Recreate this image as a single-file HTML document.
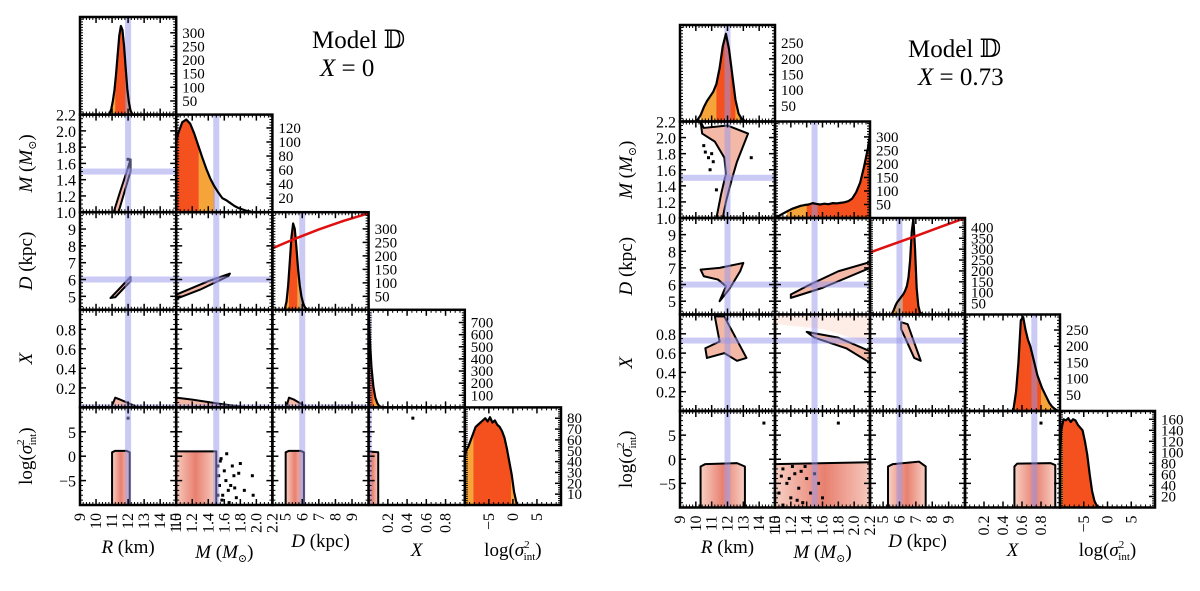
<!DOCTYPE html>
<html><head><meta charset="utf-8">
<style>
html,body{margin:0;padding:0;background:#fff;}
svg, svg text{font-family:"Liberation Serif","DejaVu Serif",serif;}
</style></head>
<body>
<svg id="fig" width="1200" height="586" viewBox="0 0 1200 586" xmlns="http://www.w3.org/2000/svg" font-family="Liberation Serif, DejaVu Serif, serif">
<defs>
<linearGradient id="boxgrad" x1="0" x2="1" y1="0" y2="0">
<stop offset="0" stop-color="#f7d0c4"/><stop offset="0.5" stop-color="#e88070"/><stop offset="1" stop-color="#f7d0c4"/>
</linearGradient>
</defs>
</svg>
<script>
// ---------- DATA (left: X = 0) ----------
const leftRBins=[10.85,10.95,11.05,11.15,11.25,11.35,11.45,11.55,11.65,11.75,11.85,11.95,12.05,12.15,12.25];
const leftRCounts=[5,20,50,90,150,220,290,325,310,250,170,95,45,15,3];
const leftMBins=[1.0,1.025,1.075,1.125,1.175,1.225,1.275,1.325,1.375,1.425,1.475,1.525,1.575,1.625,1.675,1.725,1.775,1.825,1.875,1.925];
const leftMCounts=[100,112,128,132,126,112,95,78,62,48,37,28,20,17,13,9,6,4,2,1];
const leftDBins=[4.95,5.05,5.15,5.25,5.35,5.45,5.55,5.65,5.75,5.85,5.95,6.05,6.15,6.25,6.35];
const leftDCounts=[5,30,90,180,270,320,300,230,150,90,50,25,10,4,1];
const leftXBins=[0.0,0.01,0.03,0.05,0.07,0.09,0.11,0.13,0.15];
const leftXCounts=[800,600,330,170,80,35,12,4,1];
const leftSBins=[-10,-9.75,-9.25,-8.75,-8.25,-7.75,-7.25,-6.75,-6.25,-5.75,-5.25,-4.75,-4.25,-3.75,-3.25,-2.75,-2.25,-1.75,-1.25,-0.75,-0.25,0.25,0.75];
const leftSCounts=[45,50,54,60,66,72,74,76,78,80,77,81,76,78,74,72,68,62,52,40,28,12,2];
// ---------- DATA (right: X = 0.73) ----------
const rightRBins=[10.1,10.3,10.5,10.7,10.9,11.1,11.3,11.5,11.7,11.9,12.1,12.3,12.5,12.7,12.9,13.1];
const rightRCounts=[5,20,45,65,80,95,120,170,240,280,230,150,70,25,8,2];
const rightMBins=[1.0,1.075,1.125,1.175,1.225,1.275,1.325,1.375,1.425,1.475,1.525,1.575,1.625,1.675,1.725,1.775,1.825,1.875,1.925,1.975,2.025,2.075,2.125,2.175,2.2];
const rightMCounts=[0,12,20,28,35,40,45,48,50,55,52,50,53,51,55,54,56,58,62,72,95,130,190,260,310];
const rightDBins=[5.55,5.65,5.75,5.85,5.95,6.05,6.15,6.25,6.35,6.45,6.55,6.65,6.75,6.85,6.95,7.05,7.15,7.25,7.35,7.45];
const rightDCounts=[5,20,40,55,65,75,85,95,110,130,170,250,380,440,300,120,40,10,3,1];
const rightXBins=[0.5125,0.5375,0.5625,0.5875,0.6125,0.6375,0.6625,0.6875,0.7125,0.7375,0.7625,0.7875,0.8125,0.8375,0.8625,0.8875,0.9125,0.9375,0.9625,0.9875];
const rightXCounts=[10,60,150,280,290,250,220,200,170,140,110,90,70,55,40,25,15,8,3,1];
const rightSBins=[-10,-9.75,-9.25,-8.75,-8.25,-7.75,-7.25,-6.75,-6.25,-5.75,-5.25,-4.75,-4.25,-3.75,-3.25,-2.75,-2.25,-1.75,-1.25];
const rightSCounts=[90,140,160,158,162,155,160,158,150,145,140,120,95,60,30,12,3,1,0];
// tick label arrays
const leftHistTicks=[[50,100,150,200,250,300],[20,40,60,80,100,120],[50,100,150,200,250,300],[100,200,300,400,500,600,700],[10,20,30,40,50,60,70,80]];
const rightHistTicks=[[50,100,150,200,250],[50,100,150,200,250,300],[50,100,150,200,250,300,350,400],[50,100,150,200,250],[20,40,60,80,100,120,140,160]];
const leftHistMax=[358,139,362,805,90];
const rightHistMax=[308,357,443,298,175];
// red line in D histogram [D, count]
const leftRedLine=[[4.2,228],[5.5,262],[7,298],[8.5,330],[10,358]];
const rightRedLine=[[4.2,285],[5.5,320],[7,360],[8.5,402],[10,443]];

const NS='http://www.w3.org/2000/svg';
const svg=document.getElementById('fig');
const FF='Liberation Serif, DejaVu Serif, serif';
function mk(tag,attrs,parent){const e=document.createElementNS(NS,tag);for(const k in attrs)e.setAttribute(k,attrs[k]);if(tag==='text')e.setAttribute('font-family',FF);(parent||svg).appendChild(e);return e;}

const VARS=['R','M','D','X','S'];
const RANGES={R:[9,15],M:[1.0,2.2],D:[4.2,10],X:[0,1],S:[-10,10]};
const MAJ={R:[9,10,11,12,13,14,15],M:[1.0,1.2,1.4,1.6,1.8,2.0,2.2],D:[5,6,7,8,9],X:[0.2,0.4,0.6,0.8],S:[-5,0,5]};
const MINSTEP={R:0.2,M:0.05,D:0.2,X:0.05,S:1};
const XLAB={R:['9','10','11','12','13','14','15'],M:['1.0','1.2','1.4','1.6','1.8','2.0','2.2'],D:['5','6','7','8','9'],X:['0.2','0.4','0.6','0.8'],S:['\u22125','0','5']};
const YLAB={M:['1.0','1.2','1.4','1.6','1.8','2.0','2.2'],D:['5','6','7','8','9'],X:['0.2','0.4','0.6','0.8'],S:['\u22125','0','5']};
const BAND='rgba(150,150,235,0.5)';

function corner(cfg){
  const g=mk('g',{});
  
  
  const W=cfg.w,H=cfg.h;
  function sx(v,col){const r=RANGES[VARS[col]];return cfg.x0+col*W+(v-r[0])/(r[1]-r[0])*W;}
  function sy(v,row){const r=RANGES[VARS[row]];return cfg.y0+(row+1)*H-(v-r[0])/(r[1]-r[0])*H;}
  let clipId=0;
  for(let row=0;row<5;row++){
    for(let col=0;col<=row;col++){
      const px=cfg.x0+col*W,py=cfg.y0+row*H;
      const cid=cfg.name+'-clip-'+(clipId++);
      const cp=mk('clipPath',{id:cid},g);mk('rect',{x:px,y:py,width:W,height:H},cp);
      const pg=mk('g',{'clip-path':'url(#'+cid+')'},g);
      
      
      const vx=VARS[col],vy=VARS[row];
      if(row===col){
        const h=cfg.hists[col];const ymax=h.ymax;
        const hy=v=>py+H-v/ymax*H;
        const n=h.bins.length;
        let d='M'+sx(h.bins[0],col)+','+(py+H+2);
        h.bins.forEach((b,i)=>{d+=' L'+sx(b,col)+','+hy(h.counts[i]);});
        d+=' L'+sx(h.bins[n-1],col)+','+(py+H+2)+' Z';
        const hc=cfg.name+'-hc-'+col;
        const cp2=mk('clipPath',{id:hc},g);mk('path',{d:d},cp2);
        const fg=mk('g',{'clip-path':'url(#'+hc+')'},pg);
        const l1=mk('rect',{x:sx(h.light[0],col),y:py,width:sx(h.light[1],col)-sx(h.light[0],col),height:H,fill:'#f5a43a'},fg);
        
        const l2=mk('rect',{x:sx(h.dark[0],col),y:py,width:sx(h.dark[1],col)-sx(h.dark[0],col),height:H,fill:'#f4511e'},fg);
        
        if(cfg.truth[vx]!=null){const t=mk('rect',{x:sx(cfg.truth[vx],col)-3,y:py,width:6,height:H,fill:BAND},pg);
          }
        let d2='M'+sx(h.bins[0],col)+','+(py+H);
        h.bins.forEach((b,i)=>{d2+=' L'+sx(b,col)+','+hy(h.counts[i]);});
        d2+=' L'+sx(h.bins[n-1],col)+','+(py+H);
        const hp=mk('path',{d:d2,fill:'none',stroke:'#000','stroke-width':2.2,'stroke-linejoin':'round'},pg);
        
        if(col===2){
          const pts=cfg.red.map(p=>sx(p[0],col)+','+hy(p[1])).join(' ');
          const rl=mk('polyline',{points:pts,fill:'none',stroke:'#e01010','stroke-width':2.5},pg);
          
        }
        h.ticks.forEach(t=>{
          const yy=hy(t);
          mk('line',{x1:px+W-6,x2:px+W,y1:yy,y2:yy,stroke:'#000','stroke-width':1.5},g);
          const tx=mk('text',{x:px+W+6,y:yy+5,'font-size':15,fill:'#000'},g);tx.textContent=t;
          
        });
        const step=(h.ticks[1]-h.ticks[0])/5;
        for(let v=0;v<ymax;v+=step){const yy=hy(v);mk('line',{x1:px+W-3,x2:px+W,y1:yy,y2:yy,stroke:'#000','stroke-width':1},g);mk('line',{x1:px,x2:px+3,y1:yy,y2:yy,stroke:'#000','stroke-width':1},g);}
      } else {
        const key=vx+vy;
        if(cfg.bg && cfg.bg[key]){const b=cfg.bg[key];mk('polygon',{points:b.map(p=>sx(p[0],col)+','+sy(p[1],row)).join(' '),fill:'#fde6dc',opacity:0.7},pg);}
        const poly=cfg.regions[key];
        if(poly){
          const isBox=(vy==='S');
          const pe=mk('polygon',{points:poly.map(p=>sx(p[0],col)+','+sy(p[1],row)).join(' '),fill:isBox?'url(#boxgrad)':'#f4b8a6',stroke:'#000','stroke-width':2,'stroke-linejoin':'round'},pg);
          
        }
        const sc=cfg.scatter[key];
        if(sc){sc.forEach(p=>{mk('rect',{x:sx(p[0],col)-1.5,y:sy(p[1],row)-1.5,width:3,height:3,fill:'#000'},pg);});}
        if(cfg.truth[vx]!=null){const t=mk('rect',{x:sx(cfg.truth[vx],col)-3,y:py,width:6,height:H,fill:BAND},pg);}
        if(cfg.truth[vy]!=null){const t=mk('rect',{x:px,y:sy(cfg.truth[vy],row)-3,width:W,height:6,fill:BAND},pg);}
      }
      const rx=RANGES[vx];
      for(let v=Math.ceil(rx[0]/MINSTEP[vx])*MINSTEP[vx];v<=rx[1]+1e-9;v+=MINSTEP[vx]){
        const xx=sx(v,col);
        mk('line',{x1:xx,x2:xx,y1:py,y2:py+3,stroke:'#000','stroke-width':1},g);
        mk('line',{x1:xx,x2:xx,y1:py+H-3,y2:py+H,stroke:'#000','stroke-width':1},g);
      }
      MAJ[vx].forEach(v=>{const xx=sx(v,col);
        mk('line',{x1:xx,x2:xx,y1:py,y2:py+6,stroke:'#000','stroke-width':1.5},g);
        mk('line',{x1:xx,x2:xx,y1:py+H-6,y2:py+H,stroke:'#000','stroke-width':1.5},g);});
      if(row!==col){
        const ry=RANGES[vy];
        for(let v=Math.ceil(ry[0]/MINSTEP[vy])*MINSTEP[vy];v<=ry[1]+1e-9;v+=MINSTEP[vy]){
          const yy=sy(v,row);
          mk('line',{x1:px,x2:px+3,y1:yy,y2:yy,stroke:'#000','stroke-width':1},g);
          mk('line',{x1:px+W-3,x2:px+W,y1:yy,y2:yy,stroke:'#000','stroke-width':1},g);
        }
        MAJ[vy].forEach(v=>{const yy=sy(v,row);
          mk('line',{x1:px,x2:px+6,y1:yy,y2:yy,stroke:'#000','stroke-width':1.5},g);
          mk('line',{x1:px+W-6,x2:px+W,y1:yy,y2:yy,stroke:'#000','stroke-width':1.5},g);});
      }
      const fr=mk('rect',{x:px,y:py,width:W,height:H,fill:'none',stroke:'#000','stroke-width':2.5},g);
      
      if(col===0&&row>0){
        MAJ[vy].forEach((v,i)=>{const t=mk('text',{x:px-4,y:sy(v,row)+6,'font-size':16,'text-anchor':'end',fill:'#000'},g);t.textContent=YLAB[vy][i];
          });
      }
      if(row===4){
        MAJ[vx].forEach((v,i)=>{const xx=sx(v,col);const t=mk('text',{x:0,y:0,'font-size':16,'text-anchor':'end',fill:'#000',transform:'translate('+(xx+5)+','+(py+H+8)+') rotate(-90)'},g);t.textContent=XLAB[vx][i];
          });
      }
    }
  }
  const yT=[null,'M','D','X','S'];
  const ytitles=['', '<tspan font-style="italic">M</tspan> (<tspan font-style="italic">M</tspan><tspan font-size="11" dy="4">\u2299</tspan><tspan dy="-4">)</tspan>','<tspan font-style="italic">D</tspan> (kpc)','<tspan font-style="italic">X</tspan>','log(<tspan font-style="italic">\u03c3</tspan><tspan font-size="11" dy="-8">2</tspan><tspan font-size="11" dy="12" dx="-6">int</tspan><tspan dy="-4">)</tspan>'];
  for(let r=1;r<5;r++){
    const cy=cfg.y0+r*H+H/2;
    const t=mk('text',{x:0,y:0,'font-size':19,'text-anchor':'middle',fill:'#000',transform:'translate('+(cfg.x0-48)+','+cy+') rotate(-90)'},g);
    t.innerHTML=ytitles[r];
    
  }
  const xtitles=['<tspan font-style="italic">R</tspan> (km)','<tspan font-style="italic">M</tspan> (<tspan font-style="italic">M</tspan><tspan font-size="11" dy="4">\u2299</tspan><tspan dy="-4">)</tspan>','<tspan font-style="italic">D</tspan> (kpc)','<tspan font-style="italic">X</tspan>','log(<tspan font-style="italic">\u03c3</tspan><tspan font-size="11" dy="-8">2</tspan><tspan font-size="11" dy="12" dx="-6">int</tspan><tspan dy="-4">)</tspan>'];
  const xty=[553,558,547,556,556];
  for(let c=0;c<5;c++){
    const t=mk('text',{x:cfg.x0+c*W+W/2,y:xty[c],'font-size':19,'text-anchor':'middle',fill:'#000'},g);
    t.innerHTML=xtitles[c];
    
  }
  const m1=mk('text',{x:cfg.tx,y:cfg.ty,'font-size':25,fill:'#000'},g);m1.textContent='Model \ud835\udd3b';
  
  const m2=mk('text',{x:cfg.tx2,y:cfg.ty+28,'font-size':25,fill:'#000'},g);m2.innerHTML='<tspan font-style="italic">X</tspan> = '+cfg.xval;
  
}

corner({name:'left-corner-plot',x0:80,y0:17,w:96.2,h:97.6,tx:312,ty:48,tx2:320,xval:'0',
  hists:[
    {bins:leftRBins,counts:leftRCounts,ymax:leftHistMax[0],ticks:leftHistTicks[0],light:[10.9,12.2],dark:[11.2,11.9]},
    {bins:leftMBins,counts:leftMCounts,ymax:leftHistMax[1],ticks:leftHistTicks[1],light:[1.0,1.48],dark:[1.0,1.28]},
    {bins:leftDBins,counts:leftDCounts,ymax:leftHistMax[2],ticks:leftHistTicks[2],light:[5.0,6.1],dark:[5.2,5.7]},
    {bins:leftXBins,counts:leftXCounts,ymax:leftHistMax[3],ticks:leftHistTicks[3],light:[0,0.12],dark:[0,0.05]},
    {bins:leftSBins,counts:leftSCounts,ymax:leftHistMax[4],ticks:leftHistTicks[4],light:[-10,0.5],dark:[-8.2,-0.4]}],
  red:leftRedLine,
  truth:{R:12,M:1.5,D:6,X:0},
  regions:{
    RM:[[11.1,1.0],[11.4,1.0],[12.15,1.5],[12.15,1.65],[12.0,1.55],[11.5,1.25]],
    RD:[[10.9,4.9],[11.2,4.95],[12.15,5.9],[12.15,6.15],[11.8,5.8],[11.1,5.1]],
    MD:[[1.0,4.85],[1.3,5.4],[1.65,6.2],[1.67,6.35],[1.4,5.9],[1.0,5.1]],
    RX:[[10.9,-0.02],[11.2,0.1],[11.5,0.08],[12.5,0.01],[12.5,-0.02]],
    MX:[[1.0,-0.02],[1.0,0.1],[1.2,0.08],[1.6,0.03],[1.9,0.0],[1.9,-0.02]],
    DX:[[5.0,-0.02],[5.2,0.1],[5.5,0.08],[6.3,0.0],[6.3,-0.02]],
    RS:[[11.0,-10.5],[12.1,-10.5],[12.1,0.8],[11.9,1.1],[11.2,1.1],[11.0,0.8]],
    MS:[[0.98,-10.5],[1.5,-10.5],[1.5,1.0],[0.98,1.0]],
    DS:[[5.0,-10.5],[6.1,-10.5],[6.1,0.8],[5.9,1.1],[5.2,1.1],[5.0,0.8]],
    XS:[[-0.02,-10.5],[0.1,-10.5],[0.1,0.8],[-0.02,1.0]]},
  scatter:{RS:[[12.0,7.8]],XS:[[0.46,7.8]],RM:[[12.0,1.65]],
    MS:[[1.55,-1],[1.6,-3],[1.62,-5],[1.65,-7],[1.58,-8],[1.7,-2],[1.72,-4],[1.68,-6],[1.75,-8.5],[1.8,-1.5],[1.78,-3.5],[1.63,0.5],[1.85,-7],[1.95,-4],[1.96,-8],[1.57,-9],[1.66,-9.5],[1.73,-6.5],[1.52,-2],[1.53,-4],[1.54,-6],[1.52,-8],[1.56,-0.5]]},
  bg:{}
});

corner({name:'right-corner-plot',x0:680,y0:25,w:95,h:96.5,tx:908,ty:57,tx2:918,xval:'0.73',
  hists:[
    {bins:rightRBins,counts:rightRCounts,ymax:rightHistMax[0],ticks:rightHistTicks[0],light:[10.3,12.9],dark:[11.3,12.5]},
    {bins:rightMBins,counts:rightMCounts,ymax:rightHistMax[1],ticks:rightHistTicks[1],light:[1.15,2.2],dark:[1.4,2.2]},
    {bins:rightDBins,counts:rightDCounts,ymax:rightHistMax[2],ticks:rightHistTicks[2],light:[5.6,7.3],dark:[6.2,7.2]},
    {bins:rightXBins,counts:rightXCounts,ymax:rightHistMax[3],ticks:rightHistTicks[3],light:[0.5,0.92],dark:[0.53,0.8]},
    {bins:rightSBins,counts:rightSCounts,ymax:rightHistMax[4],ticks:rightHistTicks[4],light:[-10,-1.5],dark:[-9.4,-2.5]}],
  red:rightRedLine,
  truth:{R:12,M:1.5,D:6,X:0.73},
  regions:{
    RM:[[10.3,2.2],[10.5,2.12],[12.0,2.15],[13.3,2.05],[13.0,1.9],[12.6,1.7],[12.3,1.5],[11.9,1.2],[11.7,1.0],[11.3,1.0],[11.6,1.3],[11.9,1.55],[11.8,1.75],[11.2,1.95],[10.4,2.05]],
    RD:[[10.3,6.9],[11.5,7.0],[13.0,7.3],[12.8,6.8],[12.1,5.7],[11.5,5.0],[11.9,5.9],[11.4,6.3],[10.5,6.5]],
    MD:[[1.2,5.2],[1.6,5.8],[2.2,7.0],[2.2,7.35],[1.8,6.8],[1.4,5.9],[1.2,5.4]],
    RX:[[11.2,0.98],[11.8,0.98],[13.2,0.55],[12.6,0.52],[11.8,0.6],[10.7,0.55],[10.6,0.65],[11.5,0.72]],
    MX:[[1.4,0.82],[1.8,0.76],[2.2,0.62],[2.2,0.5],[1.9,0.65],[1.5,0.76]],
    DX:[[6.1,0.92],[6.5,0.9],[7.3,0.52],[6.9,0.55],[6.1,0.85]],
    RS:[[10.3,-10.5],[13.1,-10.5],[13.1,-1.5],[12.6,-0.8],[10.6,-1],[10.3,-1.5]],
    MS:[[1.0,-10.5],[2.25,-10.5],[2.25,-0.6],[1.0,-1.0]],
    DS:[[5.3,-10.5],[7.6,-10.5],[7.6,-1.5],[7.2,-0.5],[5.6,-1.0],[5.3,-1.5]],
    XS:[[0.52,-10.5],[0.95,-10.5],[0.95,-1.2],[0.9,-0.8],[0.55,-0.9],[0.52,-1.5]]},
  scatter:{RS:[[14.3,7.5]],MS:[[1.8,7.5],[1.1,-2],[1.15,-5],[1.2,-8],[1.25,-3],[1.3,-6],[1.35,-9],[1.05,-7],[1.4,-4],[1.22,-1.5],[1.1,-9.5],[1.33,-2.5],[1.45,-7],[1.5,-3],[1.55,-5],[1.18,-4],[1.28,-8.5],[1.08,-3.5],[1.38,-1.5],[1.6,-8]],XS:[[0.8,7.5]],
    RM:[[10.5,1.9],[10.6,1.82],[10.8,1.75],[11.0,1.8],[10.9,1.6],[11.1,1.7],[13.5,1.75],[11.3,1.35]]},
  bg:{MX:[[1.0,1.0],[2.2,1.0],[2.2,0.7],[1.6,0.85],[1.0,0.9]]}
});
</script>
</body></html>
